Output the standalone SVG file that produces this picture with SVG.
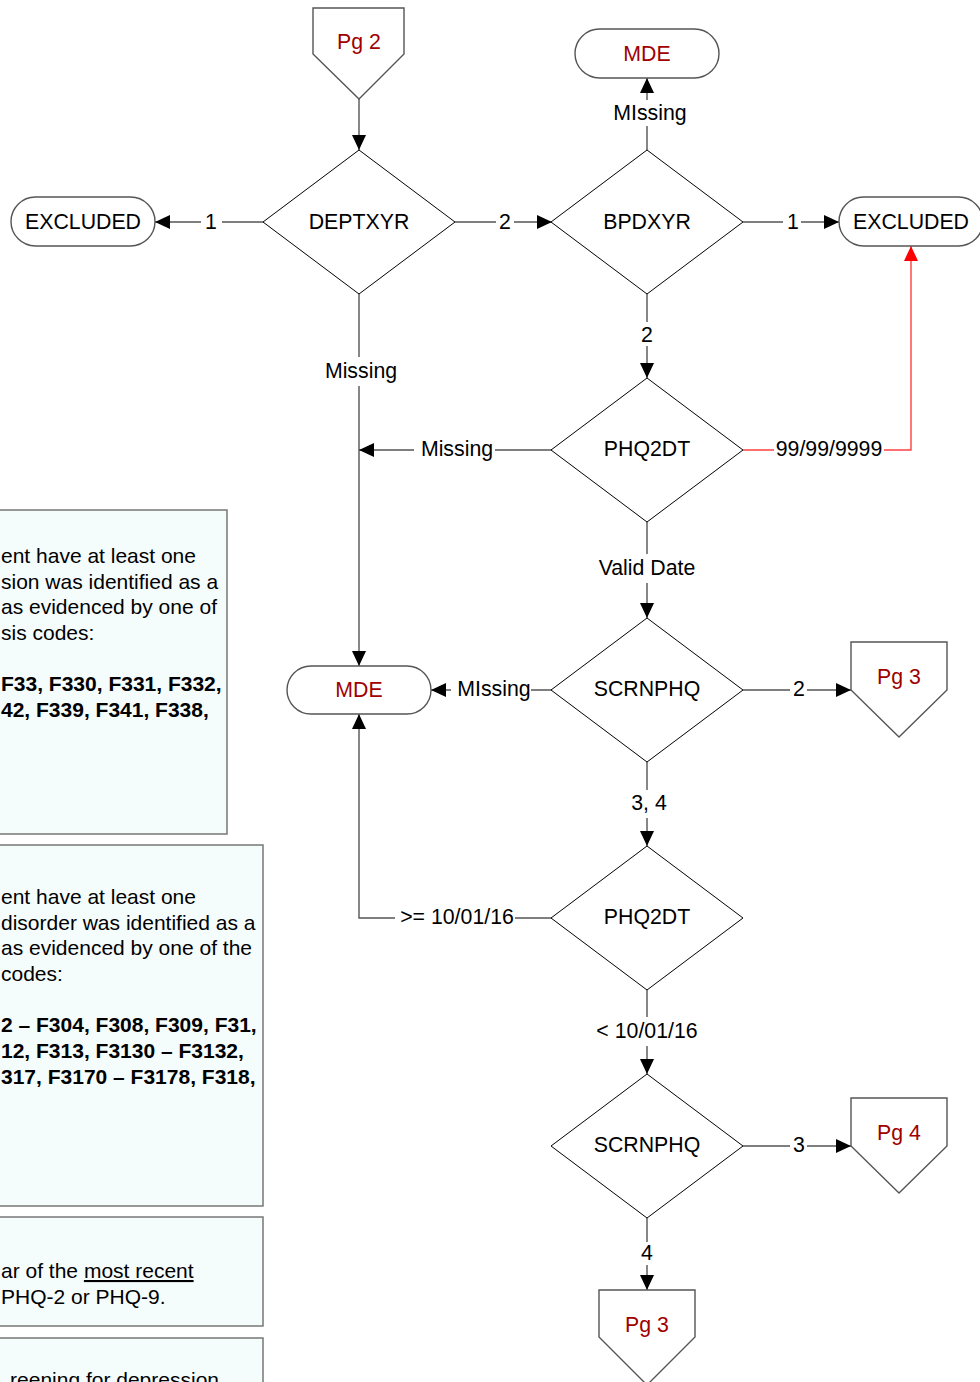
<svg xmlns="http://www.w3.org/2000/svg" width="980" height="1382" viewBox="0 0 980 1382">
<style>
text{font-family:"Liberation Sans",Arial,sans-serif;font-size:21.3px;fill:#000}
.c{text-anchor:middle}
.e{text-anchor:end}
.n{font-size:21px}
.red{fill:#a00000}
.b{font-weight:bold}
.dia{fill:#fff;stroke:#000;stroke-width:1}
.term{fill:#fff;stroke:#555;stroke-width:1.4}
.off{fill:#fff;stroke:#555;stroke-width:1.4}
.note{fill:#f5fcfc;stroke:#777;stroke-width:1.5}
.conn{fill:none;stroke:#555;stroke-width:1.4}
.rconn{fill:none;stroke:#ff4040;stroke-width:1.4}
</style>
<defs>
<marker id="ah" markerUnits="userSpaceOnUse" markerWidth="15" markerHeight="14" refX="15" refY="7" orient="auto" viewBox="0 0 15 14">
<path d="M0,0 L15,7 L0,14 z" fill="#000"/>
</marker>
<marker id="ahr" markerUnits="userSpaceOnUse" markerWidth="15" markerHeight="14" refX="15" refY="7" orient="auto" viewBox="0 0 15 14">
<path d="M0,0 L15,7 L0,14 z" fill="#f00"/>
</marker>
</defs>
<rect width="980" height="1382" fill="#fff"/>

<g id="notes">
<g id="note1">
<rect class="note" x="-10" y="510" width="237" height="324"/>
<text class="n" x="1" y="563">ent have at least one</text>
<text class="n" x="1" y="589">sion was identified as a</text>
<text class="n" x="1" y="614">as evidenced by one of</text>
<text class="n" x="1" y="640">sis codes:</text>
<text class="n b" x="1" y="691">F33, F330, F331, F332,</text>
<text class="n b" x="1" y="717">42, F339, F341, F338,</text>
</g>
<g id="note2">
<rect class="note" x="-10" y="845" width="273" height="361"/>
<text class="n" x="1" y="904">ent have at least one</text>
<text class="n" x="1" y="930">disorder was identified as a</text>
<text class="n" x="1" y="955">as evidenced by one of the</text>
<text class="n" x="1" y="981">codes:</text>
<text class="n b" x="1" y="1032">2 – F304, F308, F309, F31,</text>
<text class="n b" x="1" y="1058">12, F313, F3130 – F3132,</text>
<text class="n b" x="1" y="1084">317, F3170 – F3178, F318,</text>
</g>
<g id="note3">
<rect class="note" x="-10" y="1217" width="273" height="109"/>
<text class="n" x="1" y="1278">ar of the <tspan text-decoration="underline">most recent</tspan></text>
<text class="n" x="1" y="1304">PHQ-2 or PHQ-9.</text>
</g>
<g id="note4">
<rect class="note" x="-10" y="1338" width="273" height="80"/>
<text class="n e" x="219" y="1387">reening for depression</text>
</g>
</g>

<g id="connectors">
<path class="conn" d="M359,99 V150" marker-end="url(#ah)"/>
<path class="conn" d="M647,150 V126 M647,100 V78" marker-end="url(#ah)"/>
<path class="conn" d="M263,222 H222 M201,222 H155" marker-end="url(#ah)"/>
<path class="conn" d="M455,222 H496 M514,222 H552" marker-end="url(#ah)"/>
<path class="conn" d="M743,222 H783 M801,222 H839" marker-end="url(#ah)"/>
<path class="conn" d="M647,294 V322 M647,346 V378" marker-end="url(#ah)"/>
<path class="conn" d="M359,294 V357 M359,386 V666" marker-end="url(#ah)"/>
<path class="conn" d="M552,450 H495 M414,450 H359" marker-end="url(#ah)"/>
<path class="rconn" d="M743,450 H774 M884,450 H911 V246" marker-end="url(#ahr)"/>
<path class="conn" d="M647,522 V554 M647,583 V618" marker-end="url(#ah)"/>
<path class="conn" d="M552,690 H531 M451,690 H431" marker-end="url(#ah)"/>
<path class="conn" d="M743,690 H790 M807,690 H851" marker-end="url(#ah)"/>
<path class="conn" d="M647,762 V790 M647,818 V846" marker-end="url(#ah)"/>
<path class="conn" d="M551,918 H515 M395,918 H359 V714" marker-end="url(#ah)"/>
<path class="conn" d="M647,990 V1017 M647,1046 V1074" marker-end="url(#ah)"/>
<path class="conn" d="M743,1146 H790 M807,1146 H851" marker-end="url(#ah)"/>
<path class="conn" d="M647,1218 V1242 M647,1265 V1290" marker-end="url(#ah)"/>
<text class="c" x="650" y="120">MIssing</text>
<text class="c" x="211" y="229">1</text>
<text class="c" x="505" y="229">2</text>
<text class="c" x="793" y="229">1</text>
<text class="c" x="647" y="342">2</text>
<text class="c" x="361" y="378">Missing</text>
<text class="c" x="457" y="456">Missing</text>
<text class="c" x="829" y="456">99/99/9999</text>
<text class="c" x="647" y="575">Valid Date</text>
<text class="c" x="494" y="696">MIssing</text>
<text class="c" x="799" y="696">2</text>
<text class="c" x="649" y="810">3, 4</text>
<text class="c" x="457" y="924">&gt;= 10/01/16</text>
<text class="c" x="647" y="1038">&lt; 10/01/16</text>
<text class="c" x="799" y="1152">3</text>
<text class="c" x="647" y="1260">4</text>
</g>

<g id="pg2"><path class="off" d="M313,8 H404 V54 L359,99 L313,54 Z"/><text class="c red" x="359" y="49">Pg 2</text></g>
<g id="mde1"><rect class="term" x="575" y="29" width="144" height="49" rx="24.5"/><text class="c red" x="647" y="61">MDE</text></g>
<g id="deptxyr"><path class="dia" d="M359,150 L455,222 L359,294 L263,222 Z"/><text class="c" x="359" y="229">DEPTXYR</text></g>
<g id="bpdxyr"><path class="dia" d="M647,150 L743,222 L647,294 L551,222 Z"/><text class="c" x="647" y="229">BPDXYR</text></g>
<g id="excl1"><rect class="term" x="11" y="197" width="144" height="49" rx="24.5"/><text class="c" x="83" y="229">EXCLUDED</text></g>
<g id="excl2"><rect class="term" x="839" y="197" width="144" height="49" rx="24.5"/><text class="c" x="911" y="229">EXCLUDED</text></g>
<g id="phq2dt1"><path class="dia" d="M647,378 L743,450 L647,522 L551,450 Z"/><text class="c" x="647" y="456">PHQ2DT</text></g>
<g id="scrnphq1"><path class="dia" d="M647,618 L743,690 L647,762 L551,690 Z"/><text class="c" x="647" y="696">SCRNPHQ</text></g>
<g id="mde2"><rect class="term" x="287" y="666" width="144" height="48" rx="24"/><text class="c red" x="359" y="697">MDE</text></g>
<g id="pg3a"><path class="off" d="M851,642 H947 V690 L899,737 L851,690 Z"/><text class="c red" x="899" y="684">Pg 3</text></g>
<g id="phq2dt2"><path class="dia" d="M647,846 L743,918 L647,990 L551,918 Z"/><text class="c" x="647" y="924">PHQ2DT</text></g>
<g id="scrnphq2"><path class="dia" d="M647,1074 L743,1146 L647,1218 L551,1146 Z"/><text class="c" x="647" y="1152">SCRNPHQ</text></g>
<g id="pg4"><path class="off" d="M851,1098 H947 V1146 L899,1193 L851,1146 Z"/><text class="c red" x="899" y="1140">Pg 4</text></g>
<g id="pg3b"><path class="off" d="M599,1290 H695 V1337 L647,1385 L599,1337 Z"/><text class="c red" x="647" y="1332">Pg 3</text></g>
</svg>
